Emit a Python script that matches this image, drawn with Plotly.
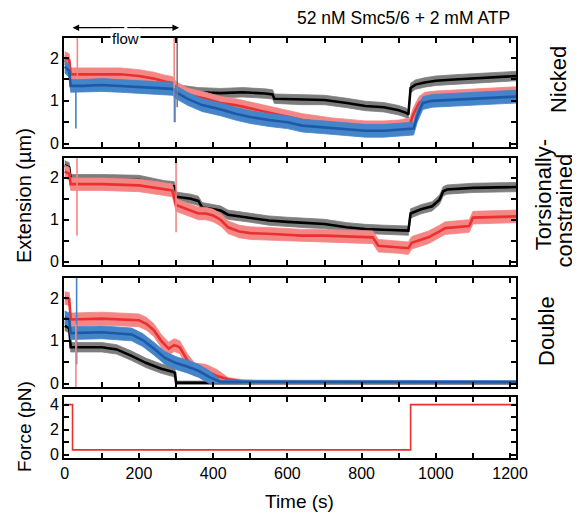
import plotly.graph_objects as go

# ---------------- data ----------------
# Panel 1: Nicked
nick_black_t = [0, 12, 16, 50, 100, 150, 200, 240, 270, 290, 300, 320, 360, 420, 480, 540, 560, 565, 600, 640, 700, 760, 810, 860, 900, 920, 926, 932, 945, 970, 1000, 1050, 1100, 1150, 1218]
nick_black_y = [1.95, 1.9, 1.5, 1.5, 1.5, 1.48, 1.45, 1.4, 1.35, 1.3, 1.27, 1.25, 1.2, 1.18, 1.2, 1.17, 1.15, 1.05, 1.04, 1.02, 1.02, 0.95, 0.88, 0.85, 0.78, 0.72, 0.68, 1.3, 1.38, 1.43, 1.47, 1.5, 1.52, 1.55, 1.58]
nick_red_t = [0, 12, 16, 50, 100, 150, 200, 240, 270, 290, 300, 330, 380, 420, 460, 500, 550, 600, 640, 680, 720, 760, 810, 860, 900, 930, 940, 955, 970, 1000, 1100, 1218]
nick_red_y = [2.0, 1.95, 1.62, 1.62, 1.63, 1.62, 1.58, 1.52, 1.45, 1.42, 1.3, 1.15, 1.05, 0.95, 0.9, 0.82, 0.72, 0.62, 0.55, 0.5, 0.45, 0.42, 0.38, 0.38, 0.4, 0.45, 0.7, 0.95, 1.05, 1.08, 1.12, 1.18]
nick_blue_t = [0, 12, 16, 50, 100, 150, 200, 250, 290, 300, 330, 370, 420, 460, 500, 550, 600, 640, 700, 760, 810, 860, 900, 940, 950, 965, 990, 1100, 1218]
nick_blue_y = [1.8, 1.7, 1.35, 1.35, 1.37, 1.35, 1.33, 1.3, 1.28, 1.2, 1.05, 0.9, 0.8, 0.7, 0.62, 0.55, 0.5, 0.42, 0.38, 0.33, 0.3, 0.3, 0.32, 0.35, 0.65, 0.95, 1.0, 1.05, 1.1]

# Panel 2: Torsionally-constrained
tc_black_t = [0, 12, 16, 100, 200, 240, 270, 295, 300, 340, 360, 370, 400, 420, 440, 470, 500, 550, 600, 650, 700, 760, 810, 860, 900, 926, 932, 960, 990, 1010, 1020, 1030, 1100, 1218]
tc_black_y = [2.3, 2.25, 1.97, 1.97, 1.95, 1.88, 1.82, 1.8, 1.55, 1.5, 1.45, 1.3, 1.25, 1.22, 1.12, 1.08, 1.05, 0.98, 0.95, 0.92, 0.9, 0.82, 0.78, 0.76, 0.75, 0.74, 1.15, 1.25, 1.32, 1.48, 1.68, 1.72, 1.76, 1.78]
tc_red_t = [0, 12, 16, 100, 200, 250, 290, 300, 330, 360, 380, 400, 420, 440, 470, 500, 560, 640, 700, 760, 830, 845, 900, 926, 935, 980, 1010, 1025, 1090, 1100, 1218]
tc_red_y = [2.15, 2.1, 1.85, 1.85, 1.82, 1.75, 1.7, 1.35, 1.25, 1.15, 1.15, 1.1, 1.0, 0.82, 0.72, 0.68, 0.66, 0.62, 0.62, 0.6, 0.58, 0.38, 0.35, 0.32, 0.45, 0.58, 0.72, 0.8, 0.85, 1.05, 1.08]

# Panel 3: Double
dbl_red_t = [0, 12, 16, 100, 200, 220, 240, 260, 280, 295, 310, 330, 350, 380, 410, 440, 480, 520, 1218]
dbl_red_y = [2.0, 1.98, 1.5, 1.52, 1.48, 1.4, 1.25, 1.0, 0.82, 0.9, 0.85, 0.55, 0.33, 0.3, 0.18, 0.1, 0.05, 0.03, 0.03]
dbl_blue_t = [0, 12, 16, 100, 180, 210, 240, 270, 300, 330, 360, 390, 420, 1218]
dbl_blue_y = [1.55, 1.5, 1.18, 1.2, 1.15, 1.02, 0.82, 0.6, 0.48, 0.4, 0.3, 0.15, 0.04, 0.03]
dbl_black_t = [0, 12, 16, 100, 140, 180, 220, 260, 290, 297, 300, 1218]
dbl_black_y = [1.35, 1.3, 0.85, 0.85, 0.8, 0.65, 0.48, 0.35, 0.28, 0.25, 0.02, 0.02]

# noise half-width of the raw traces (µm)
noise_black = 0.11
noise_red = 0.15
noise_blue = 0.15
noise_flat = 0.04

# spikes: (panel, colour key, time, y_from, y_to)
spikes = [
    (1, "red", 34, 2.47, 1.5), (1, "blue", 30, 1.3, 0.35),
    (1, "red", 295, 2.47, 0.5), (1, "black", 303, 2.47, 0.85), (1, "blue", 297, 1.3, 0.5),
    (2, "red", 33, 2.47, 0.62), (2, "red", 300, 2.47, 0.7),
    (3, "blue", 32, 2.47, 0.45), (3, "red", 30, 1.4, -0.1),
]

# Force
force_t = [0, 21, 932, 1218]
force_f = [4, 0.4, 4, 4]

# flow period (s)
flow_start = 21
flow_end = 308

x_ticks = list(range(0, 1201, 100))
x_labels = [str(v) if v % 200 == 0 else "" for v in x_ticks]

# ---------------- styling ----------------
COL = {
    "black": ("#000000", "rgba(125,125,125,1)"),
    "red": ("#ec2f2f", "rgba(244,135,133,1)"),
    "blue": ("#1c5aa8", "rgba(68,132,200,1)"),
}
FONT = "Liberation Sans, Arial, sans-serif"

fig = go.Figure()


def add_trace(t, y, key, noise, ax):
    line_c, band_c = COL[key]
    nz = noise if isinstance(noise, list) else [noise] * len(y)
    hi = [v + n for v, n in zip(y, nz)]
    lo = [v - n for v, n in zip(y, nz)]
    fig.add_trace(go.Scatter(x=t + t[::-1], y=hi + lo[::-1], fill="toself",
                             fillcolor=band_c, line=dict(width=0.8, color=band_c),
                             mode="lines", xaxis="x" + ax, yaxis="y" + ax,
                             hoverinfo="skip", showlegend=False))
    fig.add_trace(go.Scatter(x=t, y=y, mode="lines", line=dict(color=line_c, width=2.6),
                             xaxis="x" + ax, yaxis="y" + ax, showlegend=False))


def flat_noise(t, y, base):
    return [base if v > 0.1 else noise_flat for v in y]


# panel 1
add_trace(nick_black_t, nick_black_y, "black", noise_black, "")
add_trace(nick_red_t, nick_red_y, "red", noise_red, "")
add_trace(nick_blue_t, nick_blue_y, "blue", noise_blue, "")
# panel 2
add_trace(tc_black_t, tc_black_y, "black", noise_black, "2")
add_trace(tc_red_t, tc_red_y, "red", noise_red, "2")
# panel 3
add_trace(dbl_black_t, dbl_black_y, "black", flat_noise(dbl_black_t, dbl_black_y, noise_black), "3")
add_trace(dbl_red_t, dbl_red_y, "red", flat_noise(dbl_red_t, dbl_red_y, noise_red), "3")
add_trace(dbl_blue_t, dbl_blue_y, "blue", flat_noise(dbl_blue_t, dbl_blue_y, noise_blue), "3")

for p, key, t, y0, y1 in spikes:
    ax = "" if p == 1 else str(p)
    fig.add_trace(go.Scatter(x=[t, t], y=[y0, y1], mode="lines",
                             line=dict(color=COL[key][1], width=1.6),
                             xaxis="x" + ax, yaxis="y" + ax, showlegend=False))

fig.add_trace(go.Scatter(x=force_t, y=force_f, mode="lines", line_shape="hv",
                         line=dict(color="#ec2f2f", width=1.6),
                         xaxis="x4", yaxis="y4", showlegend=False))

# ---------------- layout ----------------
axis_common = dict(showline=True, linewidth=2, linecolor="black", mirror="ticks",
                   ticks="inside", ticklen=5, tickwidth=1.5, tickcolor="black",
                   showgrid=False, zeroline=False,
                   tickfont=dict(family=FONT, size=16, color="black"))

xr = [-2, 1216]
dom = {"": [0.7405, 1.0], "2": [0.4595, 0.714], "3": [0.169, 0.4286], "4": [0.0, 0.145]}
layout = dict(width=572, height=514, margin=dict(l=56, r=64, t=30, b=64),
              plot_bgcolor="white", paper_bgcolor="white", showlegend=False)
for ax in ["", "2", "3", "4"]:
    xa = dict(axis_common, range=xr, tickvals=x_ticks, ticktext=x_labels,
              anchor="y" + ax, showticklabels=(ax == "4"))
    if ax != "4":
        xa["matches"] = "x4"
    layout["xaxis" + ax] = xa
    if ax == "4":
        ya = dict(axis_common, range=[-0.25, 4.6], tickvals=[0, 1, 2, 3, 4],
                  ticktext=["0", "", "2", "", "4"], domain=dom[ax], anchor="x4")
    else:
        ya = dict(axis_common, range=[-0.08, 2.47], tickvals=[0, 0.5, 1, 1.5, 2],
                  ticktext=["0", "", "1", "", "2"], domain=dom[ax], anchor="x" + ax)
    layout["yaxis" + ax] = ya
fig.update_layout(**layout)

ann = []
ann.append(dict(text="52 nM Smc5/6 + 2 mM ATP", xref="paper", yref="paper", x=0.991, y=1.048,
                xanchor="right", yanchor="middle", showarrow=False,
                font=dict(family=FONT, size=17.5, color="black")))
fy = 1.0245
mid = (flow_start + flow_end) / 2
for tip in (flow_start, flow_end):
    ann.append(dict(text="", xref="x", yref="paper", x=tip, y=fy, axref="x", ayref="pixel",
                    ax=mid, ay=0, showarrow=True, arrowhead=2, arrowsize=1.1, arrowwidth=1.2,
                    arrowcolor="black"))
ann.append(dict(text="flow", xref="x", yref="paper", x=mid, y=fy, showarrow=False,
                bgcolor="white", borderpad=1, font=dict(family=FONT, size=15, color="black")))
for txt, x, y in [("Nicked", 1.093, 0.9), ("Torsionally-", 1.060, 0.626),
                  ("constrained", 1.107, 0.59), ("Double", 1.066, 0.302)]:
    ann.append(dict(text=txt, xref="paper", yref="paper", x=x, y=y, textangle=-90,
                    xanchor="center", yanchor="middle", showarrow=False,
                    font=dict(family=FONT, size=22, color="black")))
ann.append(dict(text="Extension (µm)", xref="paper", yref="paper", x=-0.0885, y=0.626,
                textangle=-90, xanchor="center", yanchor="middle", showarrow=False,
                font=dict(family=FONT, size=20, color="black")))
ann.append(dict(text="Force (pN)", xref="paper", yref="paper", x=-0.0885, y=0.076,
                textangle=-90, xanchor="center", yanchor="middle", showarrow=False,
                font=dict(family=FONT, size=19, color="black")))
ann.append(dict(text="Time (s)", xref="paper", yref="paper", x=0.522, y=-0.104,
                xanchor="center", yanchor="middle", showarrow=False,
                font=dict(family=FONT, size=19, color="black")))
fig.update_layout(annotations=ann)

fig.write_html("out.html")
